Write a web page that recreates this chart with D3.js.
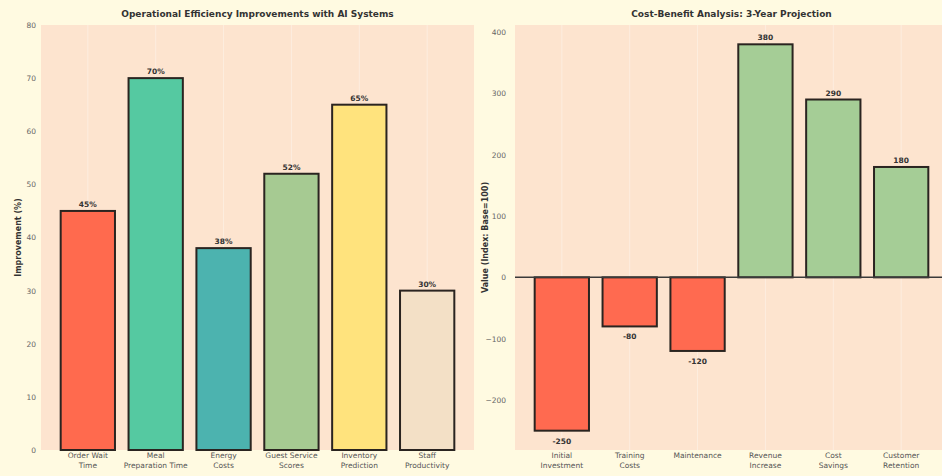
<!DOCTYPE html>
<html>
<head>
<meta charset="utf-8">
<script src="https://cdn.jsdelivr.net/npm/d3@7"></script>
<style>
  html, body { margin: 0; padding: 0; background: #FFFAE1; }
  svg { display: block; font-family: "DejaVu Sans", sans-serif; }
</style>
</head>
<body>
<svg id="chart" width="942" height="476"></svg>
<script>
// Left panel: efficiency gains per operational area
const effCategories = ["Order Wait\nTime", "Meal\nPreparation Time", "Energy\nCosts",
                       "Guest Service\nScores", "Inventory\nPrediction", "Staff\nProductivity"];
const effValues = [45, 70, 38, 52, 65, 30];
const effColors = ["#FF6A4E", "#55C9A1", "#4CB3AF", "#A6CA92", "#FFE37D", "#F3E0C6"];
const effTicks = [0, 10, 20, 30, 40, 50, 60, 70, 80];

// Right panel: three-year cost/benefit projection
const cbCategories = ["Initial\nInvestment", "Training\nCosts", "Maintenance",
                      "Revenue\nIncrease", "Cost\nSavings", "Customer\nRetention"];
const cbValues = [-250, -80, -120, 380, 290, 180];
const cbTicks = [-200, -100, 0, 100, 200, 300, 400];

const svg = d3.select("#chart");
const figBg = "#FFFAE1", axBg = "#FDE4CF";

svg.append("rect").attr("width", 942).attr("height", 476).attr("fill", figBg);

function panel(opts) {
  const { x0, x1, y0, y1, cats, vals, colors, yDomain, ticks, title, ylabel, ylabelOffset,
          tickPad, fmt, zeroLine } = opts;
  const g = svg.append("g");
  const x = d3.scaleBand().domain(cats).range([x0, x1]).paddingInner(0.2).paddingOuter(0.29);
  const y = d3.scaleLinear().domain(yDomain).range([y1, y0]);

  g.append("rect").attr("x", x0).attr("y", y0).attr("width", x1 - x0).attr("height", y1 - y0)
    .attr("fill", axBg);

  // faint vertical grid at each category
  g.append("g").selectAll("line").data(cats).join("line")
    .attr("x1", d => x(d) + x.bandwidth() / 2).attr("x2", d => x(d) + x.bandwidth() / 2)
    .attr("y1", y0).attr("y2", y1)
    .attr("stroke", "#ffffff").attr("stroke-opacity", 0.35).attr("stroke-width", 1);

  // y axis
  const yAxis = g.append("g").attr("transform", `translate(${x0},0)`)
    .call(d3.axisLeft(y).tickValues(ticks).tickSize(0).tickPadding(tickPad).tickFormat(d3.format("d")));
  yAxis.select(".domain").remove();
  yAxis.selectAll("text").attr("font-size", 7.5).attr("fill", "#666").attr("font-family", "DejaVu Sans");

  // x axis labels (two lines)
  const xAxis = g.append("g").attr("transform", `translate(0,${y1})`)
    .call(d3.axisBottom(x).tickSize(0).tickPadding(5).tickFormat(""));
  xAxis.select(".domain").remove();
  xAxis.selectAll(".tick").each(function (d) {
    const t = d3.select(this).append("text").attr("fill", "#555").attr("font-size", 7.5)
      .attr("text-anchor", "middle").attr("font-family", "DejaVu Sans");
    d.split("\n").forEach((line, i) => {
      t.append("tspan").attr("x", 0).attr("y", 8 + i * 10).text(line);
    });
  });

  // bars
  g.append("g").selectAll("rect").data(vals).join("rect")
    .attr("x", (d, i) => x(cats[i]))
    .attr("width", x.bandwidth())
    .attr("y", d => y(Math.max(0, d)))
    .attr("height", d => Math.abs(y(d) - y(0)))
    .attr("fill", (d, i) => colors(d, i))
    .attr("stroke", "#2a2420").attr("stroke-width", 2);

  if (zeroLine) {
    g.append("line").attr("x1", x0).attr("x2", x1).attr("y1", y(0)).attr("y2", y(0))
      .attr("stroke", "#3a3a3a").attr("stroke-width", 1.5);
  }

  // value labels
  g.append("g").selectAll("text").data(vals).join("text")
    .attr("x", (d, i) => x(cats[i]) + x.bandwidth() / 2)
    .attr("y", d => d >= 0 ? y(d) - 4 : y(d) + 13)
    .attr("text-anchor", "middle").attr("font-size", 7.5).attr("font-weight", "bold")
    .attr("fill", "#333").text(fmt);

  // title
  g.append("text").attr("x", (x0 + Math.min(x1, 942)) / 2 + (x1 > 942 ? 3 : 0)).attr("y", 17)
    .attr("text-anchor", "middle").attr("font-size", 9).attr("font-weight", "bold")
    .attr("fill", "#333").text(title);

  // y label
  g.append("text").attr("transform", `translate(${x0 - ylabelOffset},${(y0 + y1) / 2}) rotate(-90)`)
    .attr("text-anchor", "middle").attr("font-size", 8).attr("font-weight", "bold")
    .attr("fill", "#333").text(ylabel);
}

panel({
  x0: 41, x1: 474, y0: 25, y1: 450,
  cats: effCategories, vals: effValues,
  colors: (d, i) => effColors[i],
  yDomain: [0, 80], ticks: effTicks,
  title: "Operational Efficiency Improvements with AI Systems",
  ylabel: "Improvement (%)", ylabelOffset: 20, tickPad: 5,
  fmt: d => d + "%"
});

panel({
  x0: 515, x1: 948, y0: 25, y1: 450,
  cats: cbCategories, vals: cbValues,
  colors: d => d < 0 ? "#FF6A50" : "#A5CD96",
  yDomain: [-281.5, 411.5], ticks: cbTicks,
  title: "Cost-Benefit Analysis: 3-Year Projection",
  ylabel: "Value (Index: Base=100)", ylabelOffset: 27, tickPad: 9,
  fmt: d => d,
  zeroLine: true
});
</script>
</body>
</html>
